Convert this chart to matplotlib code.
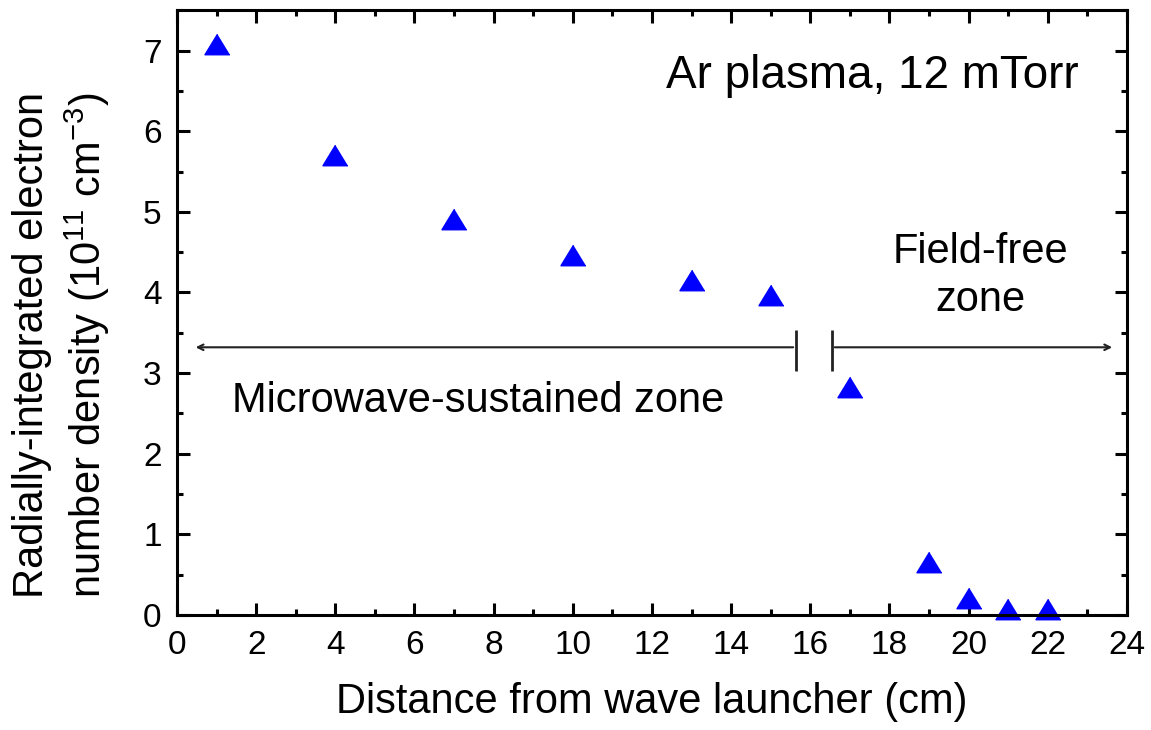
import matplotlib
matplotlib.use('Agg')
from matplotlib import pyplot as plt
from matplotlib.ticker import MultipleLocator

plt.rcParams['font.family'] = ['Liberation Sans', 'DejaVu Sans']
plt.rcParams['mathtext.fontset'] = 'custom'
plt.rcParams['mathtext.rm'] = 'Liberation Sans'

distance = [1, 4, 7, 10, 13, 15, 17, 19, 20, 21, 22]
density = [7.08, 5.70, 4.91, 4.46, 4.16, 3.97, 2.83, 0.66, 0.21, 0.07, 0.07]

fig = plt.figure(figsize=(11.51, 7.30), dpi=100)
ax = fig.add_axes([0.1538, 0.1575, 0.8252, 0.8285])

tri = [(0, 0.82), (-1, -0.82), (1, -0.82)]
ax.plot(distance, density, linestyle='none', marker=tri, markersize=18,
        color='#0000ff', clip_on=False)

ax.set_xlim(0, 24)
ax.set_ylim(0, 7.5)
ax.xaxis.set_major_locator(MultipleLocator(2))
ax.xaxis.set_minor_locator(MultipleLocator(1))
ax.yaxis.set_major_locator(MultipleLocator(1))
ax.yaxis.set_minor_locator(MultipleLocator(0.5))
ax.tick_params(which='both', direction='in', top=True, right=True, width=2.2)
ax.tick_params(which='major', length=9, labelsize=24)
ax.tick_params(axis='x', which='major', pad=11)
ax.tick_params(axis='y', which='major', pad=11)
ax.tick_params(which='minor', length=4.5)
for s in ax.spines.values():
    s.set_linewidth(2.2)

ax.set_xlabel('Distance from wave launcher (cm)', fontsize=30, labelpad=15)
fig.text(62 / 1151, 1 - 345 / 730,
         'Radially-integrated electron\nnumber density (10$^{11}$ cm$^{-3}$)',
         fontsize=30, rotation=90, ha='center', va='center',
         multialignment='center', linespacing=1.3)

# zone markers
y_arr = 3.32
ax.annotate('', xy=(0.4, y_arr), xytext=(15.64, y_arr),
            arrowprops=dict(arrowstyle='->', color='#222222', lw=1.5))
ax.annotate('', xy=(23.7, y_arr), xytext=(16.55, y_arr),
            arrowprops=dict(arrowstyle='->', color='#222222', lw=1.5))
ax.vlines([15.64, 16.55], 3.02, 3.54, color='#222222', lw=2)

ax.text(22.78, 6.68, 'Ar plasma, 12 mTorr', fontsize=33, ha='right', va='center')
ax.text(1.38, 2.66, 'Microwave-sustained zone', fontsize=30, ha='left', va='center')
ax.text(20.31, 4.2, 'Field-free\nzone', fontsize=30, ha='center', va='center',
        linespacing=1.25)

plt.savefig('out.png', dpi=100)
